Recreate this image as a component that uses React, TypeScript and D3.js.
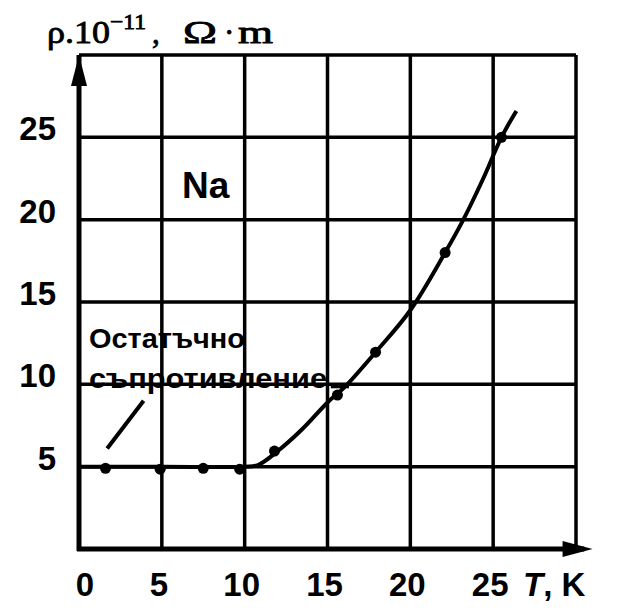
import React from "react";
import * as d3 from "d3";

// measured points (T in K, rho in 1e-11 Ohm*m)
const pointT = [1.6, 4.9, 7.5, 9.7, 11.8, 15.6, 17.9, 22.1, 25.5];
const pointRho = [4.9, 4.85, 4.9, 4.85, 5.95, 9.35, 11.95, 18.0, 25.0];

// smooth curve
const curveT = [0, 5, 10, 10.8, 12, 13.5, 15, 16, 17.9, 20, 22.1, 23.2, 24.4, 25.5, 26.4];
const curveRho = [5, 5, 5, 5.1, 5.95, 7.3, 8.9, 9.8, 11.95, 14.5, 18.0, 20.0, 22.5, 25.0, 26.6];

const xTicks = [0, 5, 10, 15, 20, 25];
const yTicks = [5, 10, 15, 20, 25];
const gridVals = [5, 10, 15, 20, 25, 30];

const W = 617;
const H = 611;

export default function App() {
  const x = d3.scaleLinear().domain([0, 30]).range([79, 576]);
  const y = d3.scaleLinear().domain([0, 30]).range([549, 55]);

  const line = d3
    .line<number>()
    .x((d, i) => x(curveT[i]))
    .y((d) => y(d))
    .curve(d3.curveCatmullRom.alpha(0.5));

  const font = "'Liberation Sans', Arial, sans-serif";
  const serif = "'Liberation Serif', 'Times New Roman', serif";
  const x0 = x(0);
  const y0 = y(0);

  return (
    <svg
      width={W}
      height={H}
      style={{ position: "absolute", left: 0, top: 0, background: "#fff" }}
      fontFamily={font}
    >
      {/* grid */}
      {gridVals.map((v) => (
        <line key={"gx" + v} x1={x(v)} x2={x(v)} y1={y(30)} y2={y0} stroke="#000" strokeWidth={3.5} />
      ))}
      {gridVals.map((v) => (
        <line key={"gy" + v} x1={x0} x2={x(30)} y1={y(v)} y2={y(v)} stroke="#000" strokeWidth={3.5} />
      ))}

      {/* axes with arrows */}
      <line x1={x0} x2={x0} y1={y0 + 2} y2={y(30)} stroke="#000" strokeWidth={5} />
      <line x1={x0 - 2} x2={x(30.5)} y1={y0} y2={y0} stroke="#000" strokeWidth={5} />
      <path
        d={`M${x0},${y(30)} L${x0 - 8},${y(30) + 31} L${x0 + 8},${y(30) + 31} Z`}
        fill="#000"
      />
      <path
        d={`M${x(31)},${y0} L${x(31) - 30},${y0 - 8} L${x(31) - 30},${y0 + 8} Z`}
        fill="#000"
      />

      {/* curve */}
      <path d={line(curveRho) || ""} fill="none" stroke="#000" strokeWidth={4} />
      {pointT.map((t, i) => (
        <circle key={"p" + i} cx={x(t)} cy={y(pointRho[i])} r={5.5} fill="#000" />
      ))}

      {/* tick labels */}
      {yTicks.map((v) => (
        <text
          key={"yl" + v}
          x={56}
          y={y(v) + 3}
          textAnchor="end"
          fontSize={33}
          fontWeight="bold"
        >
          {v}
        </text>
      ))}
      {xTicks.map((v) => (
        <text
          key={"xl" + v}
          x={x(v) + (v === 0 ? 6 : -3)}
          y={596}
          textAnchor="middle"
          fontSize={33}
          fontWeight="bold"
        >
          {v}
        </text>
      ))}
      <text x={523} y={596} fontSize={33} fontWeight="bold">
        <tspan fontStyle="italic">T</tspan>, K
      </text>

      {/* y-axis title */}
      <g fontFamily={serif} fontSize={31} stroke="#000" strokeWidth={0.8}>
        <text x={47} y={43} textLength={63} lengthAdjust="spacingAndGlyphs">ρ.10</text>
        <text x={110} y={29} fontSize={22} textLength={36} lengthAdjust="spacingAndGlyphs">−11</text>
        <text x={152} y={43}>,</text>
        <text x={183} y={43} textLength={34} lengthAdjust="spacingAndGlyphs">Ω</text>
        <text x={224} y={43}>·</text>
        <text x={238} y={43} textLength={35} lengthAdjust="spacingAndGlyphs">m</text>
      </g>

      {/* annotations */}
      <text x={182} y={198} fontSize={37} fontWeight="bold">
        Na
      </text>
      <text x={89} y={348} fontSize={27} fontWeight="bold" textLength={156} lengthAdjust="spacingAndGlyphs">
        Остатъчно
      </text>
      <text x={89} y={388} fontSize={27} fontWeight="bold" textLength={238} lengthAdjust="spacingAndGlyphs">
        съпротивление
      </text>
      <line x1={x(1.7)} y1={y(6.1)} x2={x(3.9)} y2={y(9.0)} stroke="#000" strokeWidth={4} />
      <line x1={x(15.2)} y1={y(9.85)} x2={x(16.3)} y2={y(9.85)} stroke="#000" strokeWidth={3} />
    </svg>
  );
}
